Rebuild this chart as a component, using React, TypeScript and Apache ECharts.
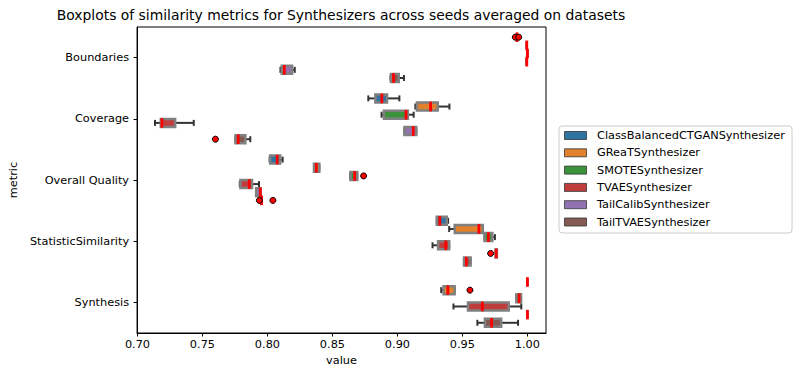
import React, { useEffect, useRef } from "react";
import * as echarts from "echarts";

const metrics = ["Boundaries", "Coverage", "Overall Quality", "StatisticSimilarity", "Synthesis"];
const synthesizers = [
  "ClassBalancedCTGANSynthesizer",
  "GReaTSynthesizer",
  "SMOTESynthesizer",
  "TVAESynthesizer",
  "TailCalibSynthesizer",
  "TailTVAESynthesizer",
];
const colors = ["#3274a1", "#e1812c", "#3a923a", "#c03d3e", "#9372b2", "#845b53"];
const xTicks = [0.7, 0.75, 0.8, 0.85, 0.9, 0.95, 1.0];

// per metric: [whisker low, q1, median, q3, whisker high]
const ctganStats = [
  [0.992, 0.992, 0.992, 0.992, 0.992],
  [0.8776, 0.883, 0.888, 0.892, 0.9015],
  [0.8017, 0.8021, 0.8075, 0.8098, 0.8117],
  [0.9303, 0.9303, 0.9326, 0.938, 0.939],
  [1.0, 1.0, 1.0, 1.0, 1.0],
];
const greatStats = [
  [0.9995, 0.9995, 0.9995, 0.9995, 0.9995],
  [0.9138, 0.915, 0.9255, 0.931, 0.94],
  [0.8358, 0.8358, 0.8376, 0.8399, 0.8399],
  [0.9398, 0.9441, 0.9627, 0.9657, 0.9657],
  [0.9337, 0.9355, 0.9388, 0.944, 0.944],
];
const smoteStats = [
  [1.0, 1.0, 1.0, 1.0, 1.0],
  [0.8878, 0.8896, 0.9066, 0.908, 0.9125],
  [0.8638, 0.8638, 0.8671, 0.8691, 0.8691],
  [0.967, 0.967, 0.97, 0.973, 0.975],
  [0.9915, 0.9915, 0.9936, 0.9951, 0.9951],
];
const tvaeStats = [
  [0.9995, 0.9995, 0.9995, 0.9995, 0.9995],
  [0.7135, 0.718, 0.7188, 0.729, 0.7433],
  [0.7787, 0.7792, 0.786, 0.7881, 0.7935],
  [0.927, 0.9313, 0.9372, 0.9398, 0.9398],
  [0.9431, 0.9543, 0.9653, 0.9856, 0.9953],
];
const tailCalibStats = [
  [0.81, 0.811, 0.813, 0.819, 0.821],
  [0.9054, 0.9054, 0.9122, 0.9145, 0.9145],
  [0.7913, 0.7913, 0.7945, 0.7948, 0.7948],
  [0.9755, 0.9755, 0.976, 0.9765, 0.9765],
  [1.0, 1.0, 1.0, 1.0, 1.0],
];
const tailTvaeStats = [
  [0.8947, 0.895, 0.897, 0.901, 0.905],
  [0.7754, 0.7754, 0.7775, 0.783, 0.7868],
  [0.7955, 0.7955, 0.7955, 0.7955, 0.7955],
  [0.9512, 0.9512, 0.953, 0.9563, 0.9563],
  [0.9615, 0.9673, 0.9724, 0.9798, 0.9928],
];
const allStats = [ctganStats, greatStats, smoteStats, tvaeStats, tailCalibStats, tailTvaeStats];

// outliers: [value, metric index, synthesizer index]
const fliers = [
  [0.9907, 0, 0],
  [0.9933, 0, 0],
  [0.76, 1, 5],
  [0.874, 2, 2],
  [0.7938, 2, 5],
  [0.8042, 2, 5],
  [0.9717, 3, 4],
  [0.9558, 4, 1],
];

const FONT = "DejaVu Sans";
const FS = 11.3;

function makeBoxRender(h: number) {
  return (params: any, api: any) => {
    const cat = api.value(0);
    const lo = api.value(1);
    const q1 = api.value(2);
    const med = api.value(3);
    const q3 = api.value(4);
    const hi = api.value(5);
    const band = api.size([0, 1])[1];
    const slot = (band * 0.8) / 6;
    const yc = api.coord([0, cat])[1] + (h - 2.5) * slot;
    const bh = slot * 0.98;
    const xLo = api.coord([lo, cat])[0];
    const xQ1 = api.coord([q1, cat])[0];
    const xMed = api.coord([med, cat])[0];
    const xQ3 = api.coord([q3, cat])[0];
    const xHi = api.coord([hi, cat])[0];
    const cap = 6;
    const wStyle = { stroke: "#333333", lineWidth: 2 };
    return {
      type: "group",
      children: [
        { type: "line", shape: { x1: xLo, y1: yc, x2: xQ1, y2: yc }, style: wStyle },
        { type: "line", shape: { x1: xQ3, y1: yc, x2: xHi, y2: yc }, style: wStyle },
        { type: "line", shape: { x1: xLo, y1: yc - cap / 2, x2: xLo, y2: yc + cap / 2 }, style: wStyle },
        { type: "line", shape: { x1: xHi, y1: yc - cap / 2, x2: xHi, y2: yc + cap / 2 }, style: wStyle },
        {
          type: "rect",
          shape: { x: xQ1, y: yc - bh / 2, width: xQ3 - xQ1, height: bh },
          style: { fill: colors[h], stroke: "#808080", lineWidth: 2.5 },
        },
        {
          type: "line",
          shape: { x1: xMed, y1: yc - bh / 2 - 0.8, x2: xMed, y2: yc + bh / 2 + 0.8 },
          style: { stroke: "#ff0000", lineWidth: 2.8 },
        },
      ],
    };
  };
}

function flierRender(params: any, api: any) {
  const v = api.value(0);
  const cat = api.value(1);
  const h = api.value(2);
  const band = api.size([0, 1])[1];
  const slot = (band * 0.8) / 6;
  const yc = api.coord([0, cat])[1] + (h - 2.5) * slot;
  const x = api.coord([v, cat])[0];
  return {
    type: "circle",
    shape: { cx: x, cy: yc, r: 3 },
    style: { fill: "#ff0000", stroke: "#000000", lineWidth: 1 },
  };
}

export default function App() {
  const ref = useRef<HTMLDivElement>(null);
  useEffect(() => {
    if (!ref.current) return;
    const chart = echarts.init(ref.current, undefined, { renderer: "svg" });

    const boxSeries = synthesizers.map((name, h) => ({
      type: "custom",
      name,
      renderItem: makeBoxRender(h),
      encode: { x: [1, 2, 3, 4, 5], y: 0 },
      data: allStats[h].map((s, i) => [i, ...s]),
      z: 2,
    }));

    const legendChildren: any[] = [
      {
        type: "rect",
        shape: { x: 559, y: 126, width: 233, height: 107, r: 3 },
        style: { fill: "#ffffff", stroke: "#cccccc", lineWidth: 1 },
      },
    ];
    synthesizers.forEach((name, i) => {
      const y = 135.5 + i * 17.3;
      legendChildren.push({
        type: "rect",
        shape: { x: 564.5, y: y - 4, width: 22, height: 8 },
        style: { fill: colors[i], stroke: "#333333", lineWidth: 0.8 },
      });
      legendChildren.push({
        type: "text",
        x: 597,
        y,
        style: { text: name, fontFamily: FONT, fontSize: 11.3, fill: "#000", verticalAlign: "middle", align: "left" },
      });
    });

    chart.setOption({
      animation: false,
      grid: { left: 134, right: 254, top: 27, bottom: 44, show: true, borderColor: "#000", borderWidth: 1 },
      xAxis: {
        type: "value",
        min: 0.6997,
        max: 1.0143,
        name: "value",
        nameLocation: "middle",
        nameGap: 22,
        nameTextStyle: { fontFamily: FONT, fontSize: FS, color: "#000" },
        axisLine: { show: true, lineStyle: { color: "#000", width: 1 } },
        axisTick: { show: true, length: 3.5, customValues: xTicks, lineStyle: { color: "#000" } },
        axisLabel: {
          customValues: xTicks,
          formatter: (v: number) => v.toFixed(2),
          fontFamily: FONT,
          fontSize: FS,
          color: "#000",
          margin: 6,
        },
        splitLine: { show: false },
      },
      yAxis: {
        type: "category",
        data: metrics,
        inverse: true,
        name: "metric",
        nameLocation: "middle",
        nameGap: 115,
        nameRotate: 90,
        nameTextStyle: { fontFamily: FONT, fontSize: FS, color: "#000" },
        axisLine: { show: true, lineStyle: { color: "#000", width: 1 } },
        axisTick: { show: true, alignWithLabel: true, length: 3.5, lineStyle: { color: "#000" } },
        axisLabel: { interval: 0, fontFamily: FONT, fontSize: FS, color: "#000", margin: 8 },
        splitLine: { show: false },
      },
      graphic: [
        {
          type: "text",
          x: 341,
          y: 15,
          style: {
            text: "Boxplots of similarity metrics for Synthesizers across seeds averaged on datasets",
            fontFamily: FONT,
            fontSize: 13.9,
            fill: "#000",
            align: "center",
            verticalAlign: "middle",
          },
        },
        ...legendChildren,
      ],
      series: [
        ...boxSeries,
        {
          type: "custom",
          name: "outliers",
          renderItem: flierRender,
          encode: { x: 0, y: 1 },
          data: fliers,
          z: 3,
        },
      ],
    });
    return () => chart.dispose();
  }, []);
  return (
    <div
      ref={ref}
      style={{ position: "fixed", left: 0, top: 0, width: 800, height: 377, background: "#fff" }}
    />
  );
}
